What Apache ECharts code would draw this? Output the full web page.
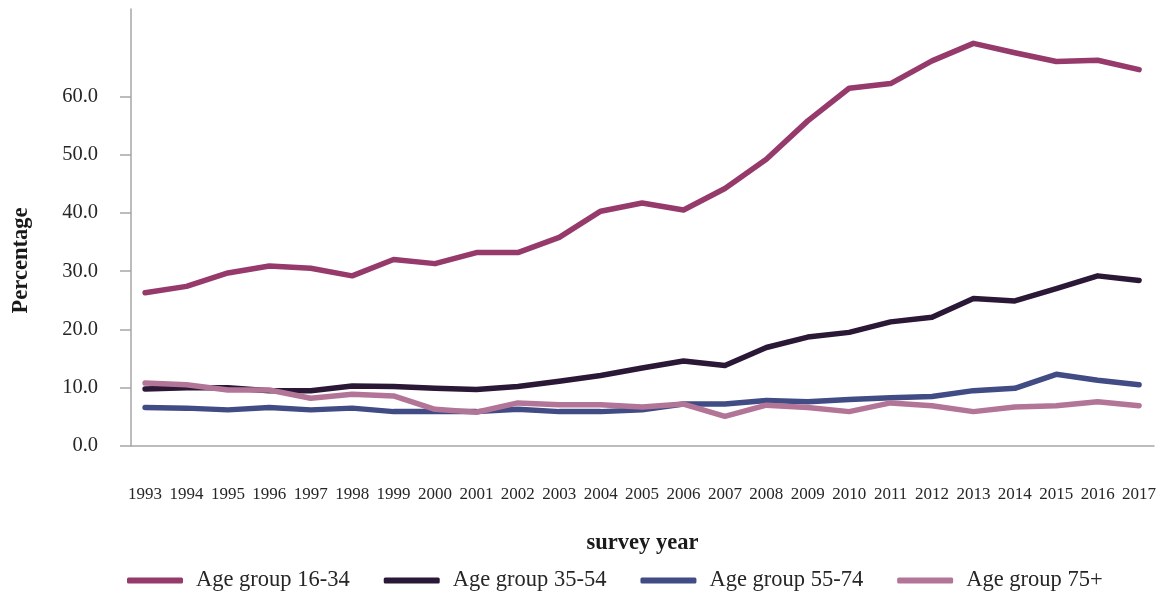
<!DOCTYPE html>
<html>
<head>
<meta charset="utf-8">
<script src="https://cdn.jsdelivr.net/npm/echarts@6/dist/echarts.min.js"></script>
<style>
  html, body { margin: 0; padding: 0; background: #fff; }
  #chart { width: 1166px; height: 592px; }
</style>
</head>
<body>
<div id="chart"></div>
<script>
// survey years
var years = [1993, 1994, 1995, 1996, 1997, 1998, 1999, 2000, 2001, 2002, 2003, 2004, 2005,
  2006, 2007, 2008, 2009, 2010, 2011, 2012, 2013, 2014, 2015, 2016, 2017];

// percentage per age group
var age16_34 = [26.3, 27.4, 29.7, 30.9, 30.5, 29.2, 32.0, 31.3, 33.2, 33.2, 35.8, 40.3, 41.7,
  40.5, 44.2, 49.2, 55.8, 61.4, 62.2, 66.1, 69.1, 67.5, 66.0, 66.2, 64.6];
var age35_54 = [9.8, 10.0, 10.0, 9.5, 9.5, 10.3, 10.2, 9.9, 9.7, 10.2, 11.1, 12.1, 13.4,
  14.6, 13.8, 16.9, 18.7, 19.5, 21.3, 22.1, 25.3, 24.9, 27.0, 29.2, 28.4];
var age55_74 = [6.6, 6.5, 6.2, 6.6, 6.2, 6.5, 5.9, 5.9, 5.9, 6.3, 5.9, 5.9, 6.2,
  7.2, 7.2, 7.8, 7.6, 8.0, 8.3, 8.5, 9.5, 9.9, 12.3, 11.3, 10.5];
var age75plus = [10.8, 10.5, 9.6, 9.6, 8.2, 8.9, 8.6, 6.3, 5.8, 7.4, 7.1, 7.1, 6.7,
  7.2, 5.1, 7.0, 6.6, 5.9, 7.4, 6.9, 5.9, 6.7, 6.9, 7.6, 6.9];

var yTicks = [0, 10, 20, 30, 40, 50, 60];

var seriesNames = ['Age group 16-34', 'Age group 35-54', 'Age group 55-74', 'Age group 75+'];
var seriesColors = ['#963a6b', '#2b1836', '#414b84', '#b37597'];
var seriesData = [age16_34, age35_54, age55_74, age75plus];

var font = "'Liberation Serif', 'DejaVu Serif', serif";

function pairs(vals) {
  return vals.map(function (v, i) { return [years[i], v]; });
}

var myChart = echarts.init(document.getElementById('chart'));

var option = {
  animation: false,
  textStyle: { fontFamily: font, color: '#262626' },
  grid: { left: 131, right: 12, top: 9, bottom: 146, containLabel: false },
  legend: {
    left: 122,
    top: 564,
    itemGap: 34,
    itemWidth: 56,
    itemHeight: 6,
    icon: 'roundRect',
    textStyle: { fontFamily: font, fontSize: 22.5, color: '#262626', padding: [0, 0, 0, 8] },
    data: seriesNames
  },
  xAxis: {
    type: 'value',
    min: 1992.66,
    max: 2017.36,
    name: 'survey year',
    nameLocation: 'middle',
    nameGap: 86,
    nameTextStyle: { fontFamily: font, fontSize: 22.5, fontWeight: 'bold', color: '#1a1a1a' },
    splitLine: { show: false },
    axisTick: { show: false },
    axisLine: { lineStyle: { color: '#a6a6a6', width: 1.5 } },
    axisLabel: {
      customValues: years,
      margin: 40,
      fontSize: 17,
      fontFamily: font,
      color: '#262626',
      formatter: function (v) { return String(Math.round(v)); }
    }
  },
  yAxis: {
    type: 'value',
    min: 0,
    max: 75,
    name: 'Percentage',
    nameLocation: 'middle',
    nameGap: 98,
    nameTextStyle: { fontFamily: font, fontSize: 22.5, fontWeight: 'bold', color: '#1a1a1a', padding: [0, 66, 0, 0] },
    splitLine: { show: false },
    axisLine: { show: true, lineStyle: { color: '#a6a6a6', width: 1.5 } },
    axisTick: { show: true, inside: false, length: 11, customValues: yTicks, lineStyle: { color: '#a6a6a6', width: 1.5 } },
    axisLabel: {
      customValues: yTicks,
      margin: 33,
      fontSize: 20.5,
      fontFamily: font,
      color: '#262626',
      formatter: function (v) { return v.toFixed(1); }
    }
  },
  series: seriesNames.map(function (name, k) {
    return {
      name: name,
      type: 'line',
      data: pairs(seriesData[k]),
      showSymbol: false,
      symbol: 'none',
      lineStyle: { color: seriesColors[k], width: 5.5, cap: 'round', join: 'round' },
      itemStyle: { color: seriesColors[k] }
    };
  })
};

myChart.setOption(option);
</script>
</body>
</html>
